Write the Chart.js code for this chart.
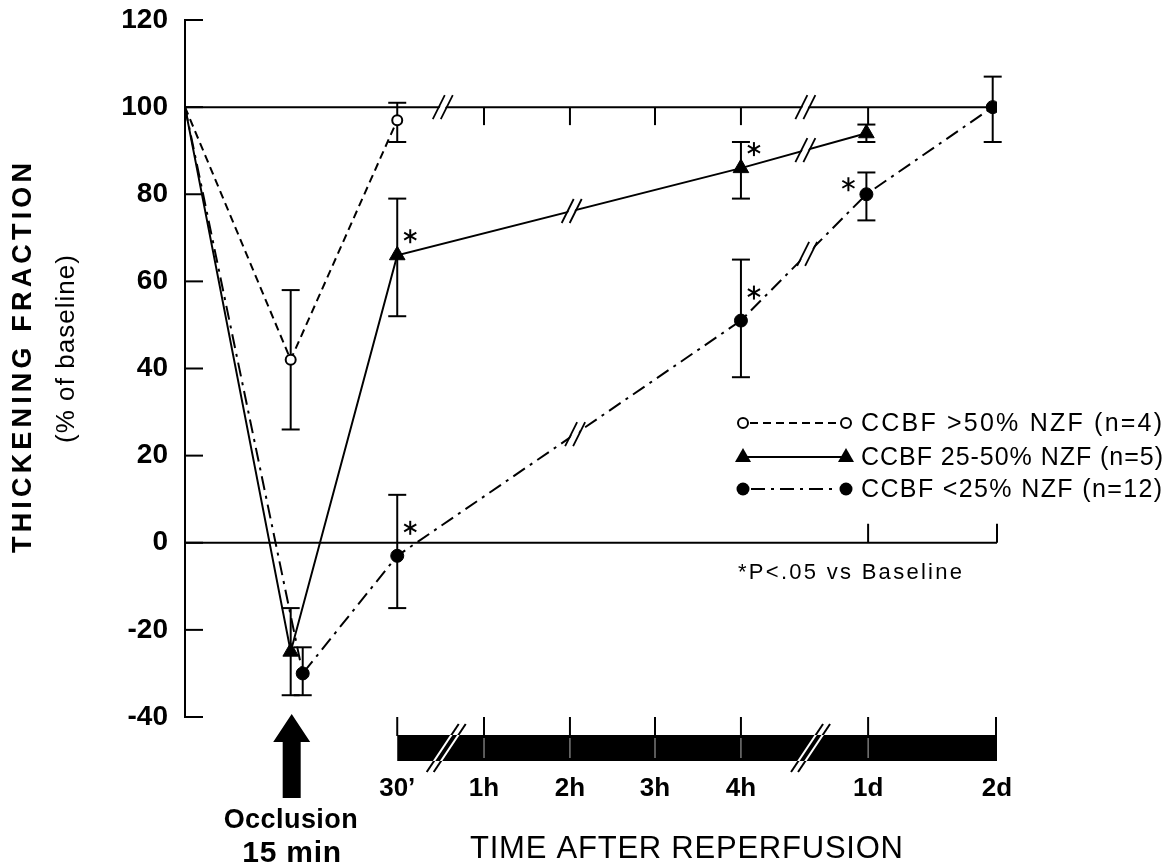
<!DOCTYPE html>
<html>
<head>
<meta charset="utf-8">
<script src="https://cdn.jsdelivr.net/npm/chart.js@4"></script>
<style>
  html, body { margin: 0; padding: 0; background: #fff; }
</style>
</head>
<body>
<canvas id="chart" width="1168" height="866"></canvas>
<script>
// ---- data ----
const timeLabels = ['30\u2019', '1h', '2h', '3h', '4h', '1d', '2d'];
const timePos = [2.47, 3.48, 4.48, 5.47, 6.47, 7.95, 9.45];
const occlusionAt = 1.23;
const yTicks = [-40, -20, 0, 20, 40, 60, 80, 100, 120];

// CCBF > 50% NZF (n=4)
const openX = [0, 1.23, 2.47];
const openY = [100, 42, 97];
const openLo = [null, 26, 92];
const openHi = [null, 58, 101];
const openSig = [0, 0, 0];

// CCBF 25-50% NZF (n=5)
const triX = [0, 1.23, 2.47, 6.47, 7.93];
const triY = [100, -25, 66, 86, 94];
const triLo = [null, -35, 52, 79, 92];
const triHi = [null, -15, 79, 92, 96];
const triSig = [0, 0, 1, 1, 0];

// CCBF < 25% NZF (n=12)
const dotX = [0, 1.37, 2.47, 6.47, 7.93, 9.40];
const dotY = [100, -30, -3, 51, 80, 100];
const dotLo = [null, -35, -15, 38, 74, 92];
const dotHi = [null, -24, 11, 65, 85, 107];
const dotSig = [0, 0, 1, 1, 1, 0];

const legendLabels = ['CCBF >50% NZF (n=4)', 'CCBF 25-50% NZF (n=5)', 'CCBF <25% NZF (n=12)'];

// where the "//" breaks sit on each line
const refBreaks = [3.0, 7.22];
const triBreaks = [4.5, 7.22];
const dotBreaks = [4.54, 7.24];
const barBreaks = [3.04, 7.28];

// ---- styles ----
const FONT = '"Liberation Sans", Arial, Helvetica, sans-serif';
const DASH_OPEN = [8, 5];
const DASH_DOT = [14, 6, 3, 6];
const starSide = { tri: ['', '', 'r', 'r', ''], dot: ['', '', 'r', 'r', 'l', ''] };

function pts(xs, ys) { return xs.map((x, i) => ({ x: x, y: ys[i] })); }
function hidefirst(r) { return c => (c.dataIndex === 0 ? 0 : r); }

function fitText(ctx, text, x, y, w, align) {
  ctx.letterSpacing = '0px';
  const m = ctx.measureText(text).width;
  const sp = text.length > 1 ? (w - m) / (text.length - 1) : 0;
  ctx.letterSpacing = sp + 'px';
  ctx.textAlign = 'left';
  let x0 = x;
  if (align === 'center') x0 = x - w / 2;
  if (align === 'right') x0 = x - w;
  ctx.fillText(text, x0, y);
  ctx.letterSpacing = '0px';
}

function seg(ctx, x1, y1, x2, y2) {
  ctx.beginPath(); ctx.moveTo(x1, y1); ctx.lineTo(x2, y2); ctx.stroke();
}

function star(ctx, cx, cy) {
  const r = 7;
  [90, 30, 150].forEach(a => {
    const dx = Math.cos(a * Math.PI / 180) * r, dy = Math.sin(a * Math.PI / 180) * r;
    seg(ctx, cx - dx, cy - dy, cx + dx, cy + dy);
  });
}

function slashes(ctx, px, py) {
  // white gap then two strokes
  ctx.save();
  ctx.strokeStyle = '#fff'; ctx.lineWidth = 5;
  seg(ctx, px - 6, py + 12, px + 6, py - 12);
  ctx.strokeStyle = '#000'; ctx.lineWidth = 1.8;
  seg(ctx, px - 10, py + 12, px + 2, py - 12);
  seg(ctx, px - 2, py + 12, px + 10, py - 12);
  ctx.restore();
}

function lineY(xs, ys, v) {
  for (let i = 0; i < xs.length - 1; i++) {
    if (v >= xs[i] && v <= xs[i + 1]) {
      return ys[i] + (ys[i + 1] - ys[i]) * (v - xs[i]) / (xs[i + 1] - xs[i]);
    }
  }
  return ys[ys.length - 1];
}

const series = [
  { xs: openX, ys: openY, lo: openLo, hi: openHi, sig: openSig, side: [] },
  { xs: triX, ys: triY, lo: triLo, hi: triHi, sig: triSig, side: starSide.tri },
  { xs: dotX, ys: dotY, lo: dotLo, hi: dotHi, sig: dotSig, side: starSide.dot }
];

const decor = {
  id: 'decor',
  beforeDatasetsDraw(chart) {
    const { ctx, scales: { x, y } } = chart;
    ctx.save();
    ctx.strokeStyle = '#000';
    ctx.lineWidth = 2;
    // inward tick marks on the y axis
    const left = chart.chartArea.left;
    y.ticks.forEach(t => {
      const py = y.getPixelForValue(t.value);
      seg(ctx, left, py, left + 18, py);
    });
    // ticks hanging from the 100% line
    timePos.slice(1, 6).forEach(v => {
      const px = x.getPixelForValue(v), py = y.getPixelForValue(100);
      seg(ctx, px, py, px, py + 18);
    });
    // ticks rising from the 0 line
    [timePos[5], timePos[6]].forEach(v => {
      const px = x.getPixelForValue(v), py = y.getPixelForValue(0);
      seg(ctx, px, py, px, py - 19);
    });
    // error bars
    series.forEach(s => {
      s.xs.forEach((xv, i) => {
        if (s.lo[i] === null) return;
        const px = x.getPixelForValue(xv);
        const pl = y.getPixelForValue(s.lo[i]), ph = y.getPixelForValue(s.hi[i]);
        seg(ctx, px, pl, px, ph);
        seg(ctx, px - 9, pl, px + 9, pl);
        seg(ctx, px - 9, ph, px + 9, ph);
      });
    });
    ctx.restore();
  },
  afterDatasetsDraw(chart) {
    const { ctx, scales: { x, y } } = chart;
    ctx.save();
    ctx.fillStyle = '#000';
    ctx.strokeStyle = '#000';

    // breaks on the lines
    refBreaks.forEach(v => slashes(ctx, x.getPixelForValue(v), y.getPixelForValue(100)));
    triBreaks.forEach(v => slashes(ctx, x.getPixelForValue(v), y.getPixelForValue(lineY(triX, triY, v))));
    dotBreaks.forEach(v => slashes(ctx, x.getPixelForValue(v), y.getPixelForValue(lineY(dotX, dotY, v))));

    // significance asterisks
    ctx.lineWidth = 2;
    series.forEach(s => {
      s.sig.forEach((f, i) => {
        if (!f) return;
        const px = x.getPixelForValue(s.xs[i]), py = y.getPixelForValue(s.ys[i]);
        if (s.side[i] === 'l') star(ctx, px - 18, py - 10);
        else if (s === series[1]) star(ctx, px + 13, py - 19);
        else star(ctx, px + 13, py - 28);
      });
    });

    // legend
    const lx1 = 743, lx2 = 846, rows = [423, 457, 489];
    ctx.lineWidth = 2;
    ctx.setLineDash(DASH_OPEN);
    seg(ctx, lx1 + 7, rows[0], lx2 - 7, rows[0]);
    ctx.setLineDash([]);
    seg(ctx, lx1, rows[1], lx2, rows[1]);
    ctx.setLineDash(DASH_DOT);
    seg(ctx, lx1 + 8, rows[2], lx2 - 8, rows[2]);
    ctx.setLineDash([]);
    [lx1, lx2].forEach(px => {
      ctx.beginPath(); ctx.arc(px, rows[0], 5, 0, Math.PI * 2);
      ctx.fillStyle = '#fff'; ctx.fill(); ctx.stroke();
      ctx.fillStyle = '#000';
      ctx.beginPath();
      ctx.moveTo(px, rows[1] - 9); ctx.lineTo(px + 8, rows[1] + 5); ctx.lineTo(px - 8, rows[1] + 5);
      ctx.closePath(); ctx.fill();
      ctx.beginPath(); ctx.arc(px, rows[2], 6.5, 0, Math.PI * 2); ctx.fill();
    });
    ctx.font = '25px ' + FONT;
    ctx.textBaseline = 'middle';
    const lw = [301, 302, 301];
    legendLabels.forEach((t, i) => fitText(ctx, t, 861, rows[i] + 1, lw[i], 'left'));
    ctx.font = '22px ' + FONT;
    fitText(ctx, '*P<.05 vs Baseline', 738, 573, 224, 'left');

    // time bar
    const bx1 = x.getPixelForValue(timePos[0]), bx2 = x.getPixelForValue(x.max);
    const bTop = 735, bBot = 761, tickTop = 717;
    ctx.fillRect(bx1, bTop, bx2 - bx1, bBot - bTop);
    ctx.lineWidth = 2;
    timePos.forEach(v => {
      const px = Math.min(x.getPixelForValue(v), bx2 - 1);
      seg(ctx, px, tickTop, px, bTop + 1);
    });
    ctx.strokeStyle = 'rgba(255,255,255,0.7)';
    ctx.lineWidth = 1;
    timePos.slice(1, 6).forEach(v => {
      const px = x.getPixelForValue(v);
      seg(ctx, px, bTop + 3, px, bBot - 3);
    });
    barBreaks.forEach(v => {
      const px = x.getPixelForValue(v);
      [-3.5, 3.5].forEach(o => {
        ctx.strokeStyle = '#000'; ctx.lineWidth = 2;
        seg(ctx, px + o - 16, 772, px + o + 16, 724);
        ctx.save();
        ctx.beginPath(); ctx.rect(bx1, bTop, bx2 - bx1, bBot - bTop); ctx.clip();
        ctx.strokeStyle = '#fff';
        seg(ctx, px + o - 16, 772, px + o + 16, 724);
        ctx.restore();
      });
    });

    // occlusion arrow
    const ax = x.getPixelForValue(occlusionAt) + 1;
    ctx.fillStyle = '#000';
    ctx.beginPath();
    ctx.moveTo(ax, 714);
    ctx.lineTo(ax + 18.5, 742);
    ctx.lineTo(ax + 9, 742);
    ctx.lineTo(ax + 9, 798);
    ctx.lineTo(ax - 9, 798);
    ctx.lineTo(ax - 9, 742);
    ctx.lineTo(ax - 18.5, 742);
    ctx.closePath();
    ctx.fill();
    ctx.textBaseline = 'alphabetic';
    ctx.font = 'bold 27px ' + FONT;
    fitText(ctx, 'Occlusion', ax - 1, 828, 134, 'center');
    ctx.font = 'bold 30px ' + FONT;
    fitText(ctx, '15 min', ax, 862, 99, 'center');

    // x title
    ctx.font = '31px ' + FONT;
    fitText(ctx, 'TIME AFTER REPERFUSION', 470, 858, 433, 'left');

    // y title (two lines, rotated)
    ctx.save();
    ctx.translate(23, 358);
    ctx.rotate(-Math.PI / 2);
    ctx.textBaseline = 'middle';
    ctx.font = 'bold 27px ' + FONT;
    fitText(ctx, 'THICKENING FRACTION', 0, 1, 390, 'center');
    ctx.restore();
    ctx.save();
    ctx.translate(66, 349);
    ctx.rotate(-Math.PI / 2);
    ctx.textBaseline = 'middle';
    ctx.font = '26px ' + FONT;
    fitText(ctx, '(% of baseline)', 0, 1, 188, 'center');
    ctx.restore();

    ctx.restore();
  }
};

new Chart(document.getElementById('chart'), {
  type: 'scatter',
  data: {
    datasets: [
      {
        label: legendLabels[0],
        data: pts(openX, openY),
        showLine: true,
        borderColor: '#000',
        borderWidth: 2,
        borderDash: DASH_OPEN,
        pointStyle: 'circle',
        pointRadius: hidefirst(5),
        pointBackgroundColor: '#fff',
        pointBorderColor: '#000',
        pointBorderWidth: 2
      },
      {
        label: legendLabels[1],
        data: pts(triX, triY),
        showLine: true,
        borderColor: '#000',
        borderWidth: 2,
        pointStyle: 'triangle',
        pointRadius: hidefirst(9),
        pointBackgroundColor: '#000',
        pointBorderColor: '#000',
        pointBorderWidth: 1
      },
      {
        label: legendLabels[2],
        data: pts(dotX, dotY),
        showLine: true,
        borderColor: '#000',
        borderWidth: 2,
        borderDash: DASH_DOT,
        pointStyle: 'circle',
        pointRadius: hidefirst(6.5),
        pointBackgroundColor: '#000',
        pointBorderColor: '#000',
        pointBorderWidth: 1
      },
      {
        label: 'baseline',
        data: [{ x: 0, y: 100 }, { x: 9.45, y: 100 }],
        showLine: true,
        borderColor: '#000',
        borderWidth: 2,
        pointRadius: 0
      },
      {
        label: 'zero',
        data: [{ x: 0, y: 0 }, { x: 9.45, y: 0 }],
        showLine: true,
        borderColor: '#000',
        borderWidth: 2,
        pointRadius: 0
      }
    ]
  },
  options: {
    responsive: false,
    animation: false,
    devicePixelRatio: 1,
    layout: { padding: { top: 20, right: 171, bottom: 0, left: 0 } },
    plugins: { legend: { display: false }, tooltip: { enabled: false } },
    scales: {
      x: {
        type: 'linear',
        min: 0,
        max: 9.45,
        afterBuildTicks: s => { s.ticks = timePos.map(v => ({ value: v })); },
        afterFit: s => { s.height = 149; s.paddingLeft = 0; s.paddingRight = 0; },
        grid: { display: false, drawTicks: false },
        border: { display: false },
        ticks: {
          autoSkip: false,
          maxRotation: 0,
          padding: 56,
          color: '#000',
          font: { family: FONT, size: 26, weight: 'bold' },
          callback: (v, i) => timeLabels[i]
        }
      },
      y: {
        min: -40,
        max: 120,
        afterBuildTicks: s => { s.ticks = yTicks.map(v => ({ value: v })); },
        afterFit: s => { s.width = 185; s.paddingTop = 0; s.paddingBottom = 0; },
        grid: { display: false, drawTicks: false },
        border: { display: true, color: '#000', width: 2 },
        ticks: {
          padding: 17,
          color: '#000',
          font: { family: FONT, size: 28, weight: 'bold' }
        }
      }
    }
  },
  plugins: [decor]
});
</script>
</body>
</html>
